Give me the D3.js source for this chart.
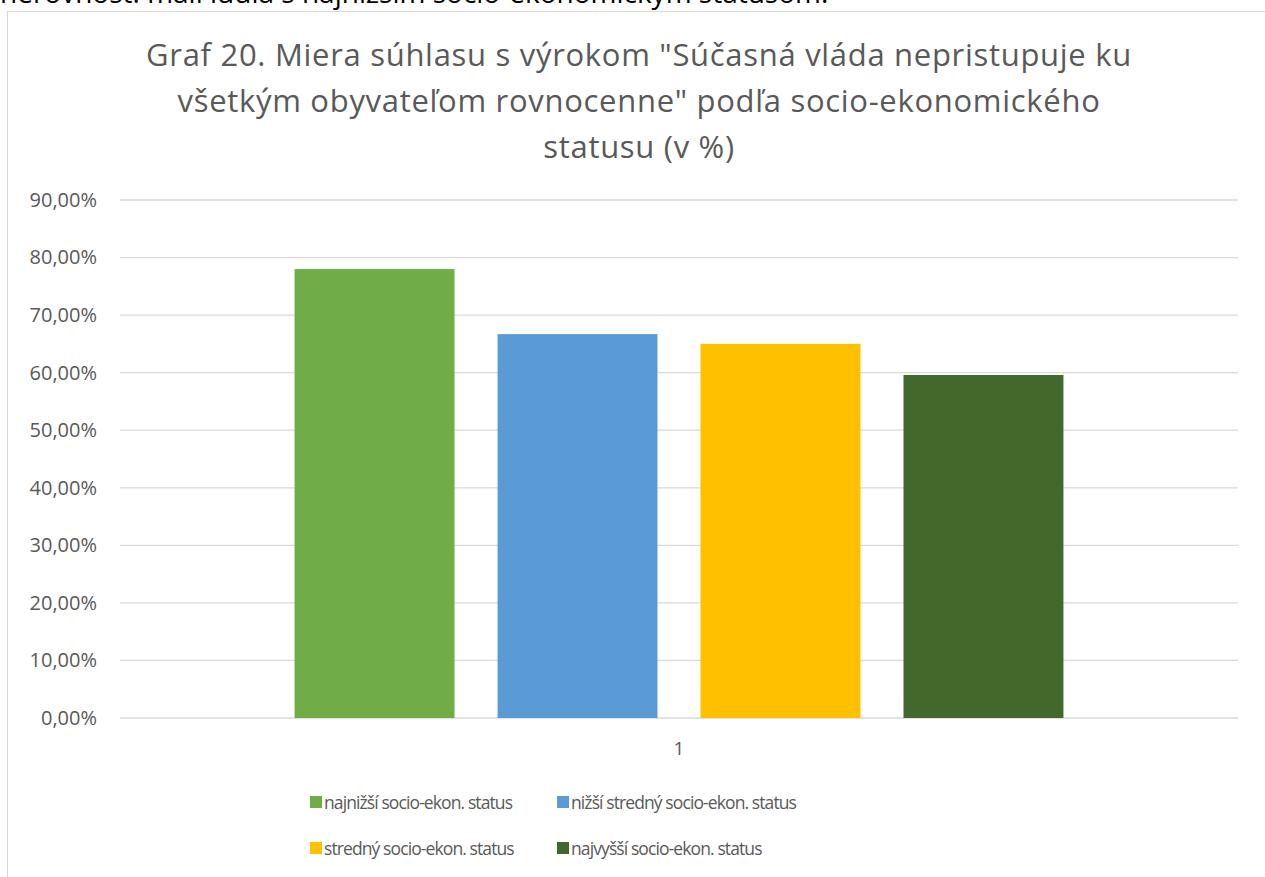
<html>
  <head>
    <meta charset="utf-8">
    <title>Graf 20</title>
    <script src="https://d3js.org/d3.v7.min.js"></script>
    <style>
      body { margin: 0; background: #fff; }
      text { font-family: "Open Sans", "Liberation Sans", Arial, sans-serif; }
    </style>
  </head>
  <body>
    <svg width="1265" height="877" id="chart"></svg>
  </body>

  <script type="text/javascript">

    var categories = ["1"];
    var series = ["najnižší socio-ekon. status", "nižší stredný socio-ekon. status",
                  "stredný socio-ekon. status", "najvyšší socio-ekon. status"];
    var values = [78.0, 66.7, 65.0, 59.6];
    var colors = ["#70ad47", "#5b9bd5", "#ffc000", "#43682b"];
    var yTicks = [0, 10, 20, 30, 40, 50, 60, 70, 80, 90];
    var titleLines = ["Graf 20. Miera súhlasu s výrokom \"Súčasná vláda nepristupuje ku",
                      "všetkým obyvateľom rovnocenne\" podľa socio-ekonomického",
                      "statusu (v %)"];
    var pageText = "nerovnosť. mali ľudia s najnižším socio-ekonomickým statusom.";

    var svg = d3.select("#chart");

    // text of the document above the chart, cut off at the top
    svg.append("text")
        .attr("x", 0).attr("y", 3)
        .attr("fill", "#000")
        .style("font-size", "28px")
        .text(pageText);

    // chart area border
    svg.append("rect")
        .attr("x", 7.5).attr("y", 11.5)
        .attr("width", 1300).attr("height", 900)
        .attr("fill", "#fff")
        .attr("stroke", "#d9d9d9");

    var plotLeft = 120, plotRight = 1238, plotTop = 200, plotBottom = 718;

    var y = d3.scaleLinear().domain([0, 90]).range([plotBottom, plotTop]);
    var x0 = d3.scaleBand().domain(categories).range([plotLeft, plotRight]);
    var x1 = d3.scaleBand().domain(series).range([0, x0.bandwidth()])
        .paddingInner(0.212).paddingOuter(0.86);

    // gridlines
    svg.append("g").selectAll("line").data(yTicks).join("line")
        .attr("x1", plotLeft).attr("x2", plotRight)
        .attr("y1", function(d){ return y(d); })
        .attr("y2", function(d){ return y(d); })
        .attr("stroke", "#d9d9d9")
        .attr("stroke-width", 1.3);

    // y axis labels
    var fmt = function(d){ return d.toFixed(2).replace(".", ",") + "%"; };
    var yAxis = svg.append("g")
        .attr("transform", "translate(" + (plotLeft - 23) + ",0)")
        .call(d3.axisLeft(y).tickValues(yTicks).tickFormat(fmt).tickSize(0).tickPadding(0));
    yAxis.select(".domain").remove();
    yAxis.selectAll("text")
        .attr("fill", "#595959")
        .style("font-size", "20px")
        .style("font-family", "'Open Sans', sans-serif");

    // bars
    var groups = svg.append("g").selectAll("g").data(categories).join("g")
        .attr("transform", function(d){ return "translate(" + x0(d) + ",0)"; });
    groups.selectAll("rect")
        .data(series.map(function(s, i){ return { s: s, v: values[i], c: colors[i] }; }))
        .join("rect")
        .attr("x", function(d){ return x1(d.s); })
        .attr("width", x1.bandwidth())
        .attr("y", function(d){ return y(d.v); })
        .attr("height", function(d){ return plotBottom - y(d.v); })
        .attr("fill", function(d){ return d.c; });

    // category axis
    var xAxis = svg.append("g")
        .attr("transform", "translate(0," + (plotBottom + 23) + ")")
        .call(d3.axisBottom(x0).tickSize(0).tickPadding(0));
    xAxis.select(".domain").remove();
    xAxis.selectAll("text")
        .attr("fill", "#595959")
        .style("font-size", "19px")
        .style("font-family", "'Open Sans', sans-serif");

    // title
    svg.append("g").selectAll("text").data(titleLines).join("text")
        .attr("x", 639)
        .attr("y", function(d, i){ return 66 + i * 46; })
        .attr("text-anchor", "middle")
        .attr("fill", "#595959")
        .style("font-size", "31px")
        .style("letter-spacing", "0.7px")
        .text(function(d){ return d; });

    // legend
    var legendX = [310, 557], legendY = [802, 848];
    var items = svg.append("g").selectAll("g").data(series).join("g")
        .attr("transform", function(d, i){
            return "translate(" + legendX[i % 2] + "," + legendY[Math.floor(i / 2)] + ")";
        });
    items.append("rect")
        .attr("x", 0).attr("y", -6)
        .attr("width", 12).attr("height", 12)
        .attr("fill", function(d, i){ return colors[i]; });
    items.append("text")
        .attr("x", 14).attr("y", 7)
        .attr("fill", "#595959")
        .style("font-size", "17.5px")
        .style("letter-spacing", "-0.9px")
        .text(function(d){ return d; });

  </script>
</html>
